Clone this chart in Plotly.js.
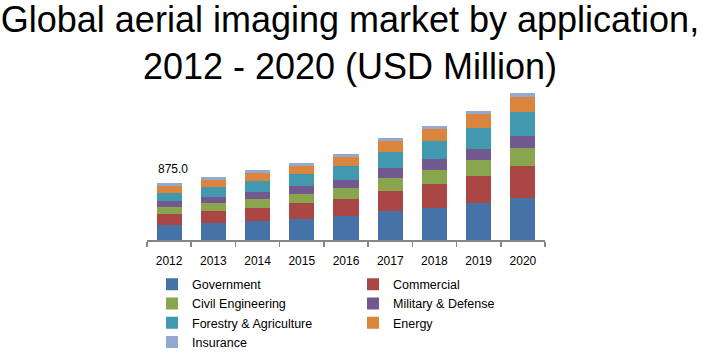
<!DOCTYPE html>
<html>
<head>
<meta charset="utf-8">
<script src="https://cdn.plot.ly/plotly-3.0.1.min.js"></script>
<style>html,body{margin:0;padding:0;background:#fff;}#chart{width:713px;height:353px;}</style>
</head>
<body>
<div id="chart"></div>
<script>
const years = ['2012','2013','2014','2015','2016','2017','2018','2019','2020'];
const government    = [230, 261, 292, 322, 373, 445, 491, 568, 649];
const commercial    = [169, 184, 200, 246, 256, 307, 368, 414, 487];
const civilEng      = [107, 123, 138, 138, 169, 200, 215, 246, 276];
const military      = [92, 92, 107, 123, 123, 154, 169, 169, 184];
const forestry      = [123, 154, 169, 184, 215, 246, 276, 322, 368];
const energy        = [107, 107, 123, 123, 138, 169, 184, 215, 230];
const insurance     = [46, 46, 46, 46, 46, 46, 46, 46, 61];
const seriesNames = ['Government','Commercial','Civil Engineering','Military & Defense','Forestry & Agriculture','Energy','Insurance'];
const seriesColors = ['#4572a7','#aa4643','#89a54e','#71588f','#4198af','#db843d','#93a9cf'];
const firstLabel = '875.0';

const seriesData = [government, commercial, civilEng, military, forestry, energy, insurance];
const traces = seriesData.map((vals, i) => ({
  type: 'bar', x: years, y: vals, name: seriesNames[i],
  marker: {color: seriesColors[i], line: {width: 0}},
  hoverinfo: 'x+y+name'
}));

const total0 = seriesData.reduce((s, a) => s + a[0], 0);

const layout = {
  width: 713, height: 353,
  margin: {l: 147, r: 168, t: 90, b: 113, autoexpand: false},
  paper_bgcolor: '#fff', plot_bgcolor: '#fff',
  barmode: 'stack', bargap: 0.43,
  font: {family: 'Liberation Sans, Arial, sans-serif', color: '#000'},
  title: {
    text: 'Global aerial imaging market by application,<br>2012 - 2020 (USD Million)',
    font: {size: 36, color: '#000', family: 'Liberation Sans, Arial, sans-serif'},
    xref: 'paper', x: 0.51, xanchor: 'center', yref: 'container', y: 0.9085, yanchor: 'middle', automargin: false
  },
  xaxis: {
    type: 'category', range: [-0.5, years.length - 0.5], showgrid: false, zeroline: false, automargin: false,
    showline: true, linecolor: '#868686', linewidth: 1.5,
    ticks: 'outside', tickson: 'boundaries', ticklen: 5, tickcolor: '#868686', tickwidth: 1.5,
    tickfont: {size: 12, color: '#000'}, tickangle: 0, ticklabelstandoff: 9
  },
  yaxis: {visible: false, range: [0, 2302], fixedrange: true, automargin: false},
  showlegend: true,
  legend: {
    orientation: 'h', xref: 'paper', x: 0.0126, xanchor: 'left', yref: 'container', y: 0.236, yanchor: 'top',
    entrywidthmode: 'pixels', entrywidth: 156,
    font: {size: 12.5, color: '#000'},
    traceorder: 'normal', itemclick: false
  },
  annotations: [{
    x: 0, y: total0, xref: 'x', yref: 'y', text: firstLabel,
    showarrow: false, yanchor: 'bottom', yshift: 5, xshift: 4, font: {size: 12, color: '#000'}
  }]
};

Plotly.newPlot('chart', traces, layout, {displayModeBar: false, staticPlot: true});
</script>
</body>
</html>
